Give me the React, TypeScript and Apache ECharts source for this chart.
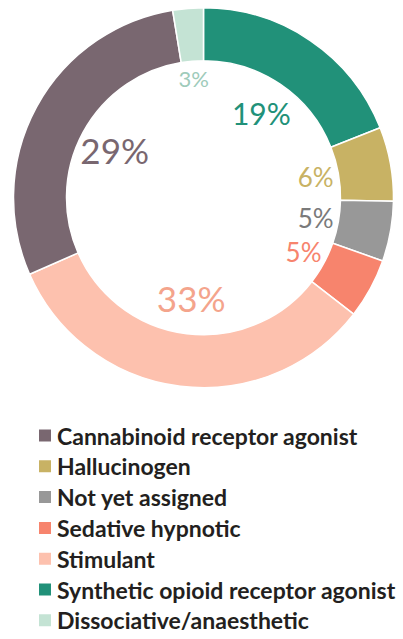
import React, { useEffect, useRef } from "react";
import * as echarts from "echarts";

// Slices in clockwise order from 12 o'clock
const categories = [
  "Synthetic opioid receptor agonist",
  "Hallucinogen",
  "Not yet assigned",
  "Sedative hypnotic",
  "Stimulant",
  "Cannabinoid receptor agonist",
  "Dissociative/anaesthetic",
];
const shares = [19.0, 6.3, 5.1, 5.1, 32.9, 29.0, 2.6];

const legendOrder = [
  "Cannabinoid receptor agonist",
  "Hallucinogen",
  "Not yet assigned",
  "Sedative hypnotic",
  "Stimulant",
  "Synthetic opioid receptor agonist",
  "Dissociative/anaesthetic",
];

// styles
const sliceColors: Record<string, string> = {
  "Synthetic opioid receptor agonist": "#219179",
  Hallucinogen: "#c8b264",
  "Not yet assigned": "#989898",
  "Sedative hypnotic": "#f7846d",
  Stimulant: "#fdc1ae",
  "Cannabinoid receptor agonist": "#796770",
  "Dissociative/anaesthetic": "#c4e3d4",
};
const labelColors: Record<string, string> = {
  "Synthetic opioid receptor agonist": "#219179",
  Hallucinogen: "#c8b264",
  "Not yet assigned": "#7a7a7a",
  "Sedative hypnotic": "#f7846d",
  Stimulant: "#f4a48c",
  "Cannabinoid receptor agonist": "#796770",
  "Dissociative/anaesthetic": "#9ecbba",
};
const labelSize = (v: number) => (v >= 25 ? 35 : v >= 10 ? 30 : v >= 4 ? 26 : 22);

// label rings: [min share, max share, outer radius of invisible label pie]
const labelRings: [number, number, number][] = [
  [25, 100, 196],
  [15, 25, 200],
  [4, 15, 222],
  [0, 4, 234],
];

export default function App() {
  const ref = useRef<HTMLDivElement>(null);
  useEffect(() => {
    document.body.style.margin = "0";
    const chart = echarts.init(ref.current!, undefined, { renderer: "svg" });
    const center = [203.5, 197.7];
    const labelSeries = labelRings.map(([lo, hi, r]) => ({
      type: "pie",
      center,
      radius: [0, r],
      startAngle: 90,
      clockwise: true,
      silent: true,
      itemStyle: { color: "rgba(0,0,0,0)" },
      labelLine: { show: false },
      label: {
        position: "inside",
        fontFamily: "Lato",
        formatter: (p: any) => `${Math.round(p.value)}%`,
      },
      data: categories.map((c, i) => ({
        name: c,
        value: shares[i],
        label: {
          show: shares[i] >= lo && shares[i] < hi,
          color: labelColors[c],
          fontSize: labelSize(shares[i]),
        },
      })),
    }));
    chart.setOption({
      animation: false,
      legend: {
        orient: "vertical",
        left: 32,
        top: 419,
        height: 230,
        data: legendOrder,
        icon: "rect",
        itemWidth: 14,
        itemHeight: 14,
        itemGap: 7.8,
        selectedMode: false,
        textStyle: {
          fontFamily: "Lato",
          fontWeight: "bold",
          fontSize: 23,
          lineHeight: 23,
          color: "#231f20",
          padding: [0, 0, 0, 0],
        },
      },
      series: [
        {
          type: "pie",
          center,
          radius: [137, 190],
          startAngle: 90,
          clockwise: true,
          silent: true,
          label: { show: false },
          labelLine: { show: false },
          itemStyle: { borderColor: "#ffffff", borderWidth: 1.5 },
          data: categories.map((c, i) => ({
            name: c,
            value: shares[i],
            itemStyle: { color: sliceColors[c] },
          })),
        },
        ...labelSeries,
      ],
    });
    return () => chart.dispose();
  }, []);
  return (
    <div
      ref={ref}
      style={{ position: "absolute", left: 0, top: 0, width: 403, height: 639 }}
    />
  );
}
